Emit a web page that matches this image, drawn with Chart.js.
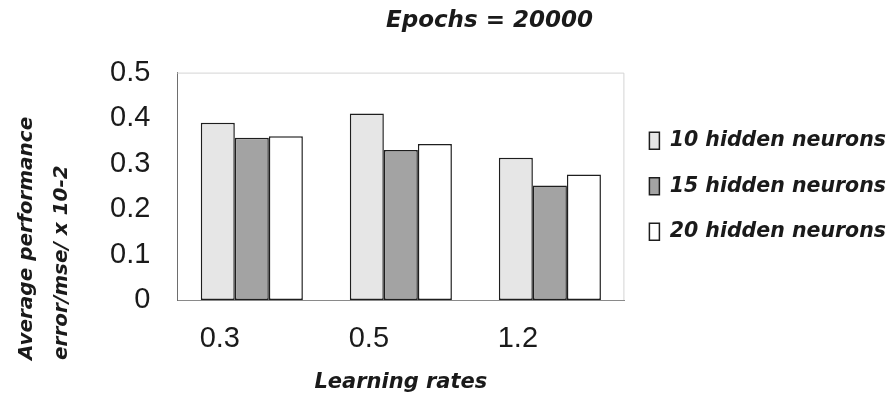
<!DOCTYPE html>
<html>
<head>
<meta charset="utf-8">
<script src="https://cdn.jsdelivr.net/npm/chart.js@4/dist/chart.umd.min.js"></script>
<style>
  html, body { margin: 0; padding: 0; background: #fff; }
  #wrap { width: 889px; height: 399px; }
</style>
</head>
<body>
<div id="wrap"><canvas id="chart" width="889" height="399"></canvas></div>
<script>
// values
const learningRates = ['0.3', '0.5', '1.2'];
const neurons10 = [0.39, 0.41, 0.313];
const neurons15 = [0.357, 0.33, 0.252];
const neurons20 = [0.36, 0.343, 0.276];
const seriesNames = ['10 hidden neurons', '15 hidden neurons', '20 hidden neurons'];
const yTitleLines = ['Average performance', 'error/mse/ x 10-2'];

const FAMILY = "'DejaVu Sans'";
const tickFont = { family: 'Liberation Sans', size: 29 };

// light frame round the plot, like the spreadsheet original
const framePlugin = {
    id: 'frame',
    beforeDatasetsDraw(chart) {
        const { ctx, chartArea: a } = chart;
        ctx.save();
        ctx.strokeStyle = '#d4d4d4';
        ctx.lineWidth = 1;
        ctx.beginPath();
        ctx.moveTo(a.left, a.top + 0.5);
        ctx.lineTo(a.right - 0.5, a.top + 0.5);
        ctx.lineTo(a.right - 0.5, a.bottom);
        ctx.stroke();
        ctx.restore();
    }
};

// two-line rotated y title, sitting low like in the reference
const yTitlePlugin = {
    id: 'yTitle',
    afterDraw(chart) {
        const ctx = chart.ctx;
        ctx.save();
        ctx.fillStyle = '#1a1a1a';
        ctx.font = "italic bold 20px " + FAMILY;
        ctx.textAlign = 'left';
        ctx.textBaseline = 'middle';
        const xs = [27, 62];
        yTitleLines.forEach((line, i) => {
            ctx.save();
            ctx.translate(xs[i], 360);
            ctx.rotate(-Math.PI / 2);
            ctx.fillText(line, 0, 0);
            ctx.restore();
        });
        ctx.restore();
    }
};

function draw() {
    new Chart(document.getElementById('chart'), {
        type: 'bar',
        data: {
            labels: learningRates,
            datasets: [
                { label: seriesNames[0], data: neurons10, backgroundColor: '#e6e6e6' },
                { label: seriesNames[1], data: neurons15, backgroundColor: '#a3a3a3' },
                { label: seriesNames[2], data: neurons20, backgroundColor: '#ffffff' }
            ]
        },
        options: {
            responsive: false,
            animation: false,
            layout: { padding: { left: 83, right: -7, top: 0, bottom: 0 } },
            datasets: {
                bar: {
                    borderColor: '#1e1e1e',
                    borderWidth: 1.5,
                    borderSkipped: false,
                    barPercentage: 1,
                    categoryPercentage: 0.685
                }
            },
            plugins: {
                title: {
                    display: true,
                    text: 'Epochs = 20000',
                    color: '#1a1a1a',
                    font: { family: FAMILY, size: 23, weight: 'bold', style: 'italic' },
                    padding: { top: 7, bottom: 38 }
                },
                legend: {
                    position: 'right',
                    fullSize: false,
                    maxWidth: 400,
                    labels: {
                        color: '#1a1a1a',
                        font: { family: FAMILY, size: 20.5, weight: 'bold', style: 'italic' },
                        boxWidth: 10,
                        boxHeight: 17,
                        padding: 25
                    }
                },
                tooltip: { enabled: false }
            },
            scales: {
                x: {
                    grid: { display: false, drawTicks: false },
                    border: { display: true, color: '#8a8a8a', width: 1 },
                    ticks: { color: '#1a1a1a', font: tickFont, padding: 22, labelOffset: -32 },
                    title: {
                        display: true,
                        text: 'Learning rates',
                        color: '#1a1a1a',
                        font: { family: FAMILY, size: 21, weight: 'bold', style: 'italic' },
                        padding: { top: -9, bottom: 4 }
                    }
                },
                y: {
                    min: 0,
                    max: 0.5,
                    grid: { display: false, drawTicks: false },
                    border: { display: true, color: '#6e6e6e', width: 1 },
                    ticks: {
                        stepSize: 0.1,
                        color: '#1a1a1a',
                        font: tickFont,
                        padding: 27,
                        callback: v => Number(v.toFixed(1)).toString()
                    }
                }
            }
        },
        plugins: [framePlugin, yTitlePlugin]
    });
}

Promise.all([
    document.fonts.load("italic bold 21px " + FAMILY),
    document.fonts.load("29px 'Liberation Sans'")
]).then(draw, draw);
</script>
</body>
</html>
